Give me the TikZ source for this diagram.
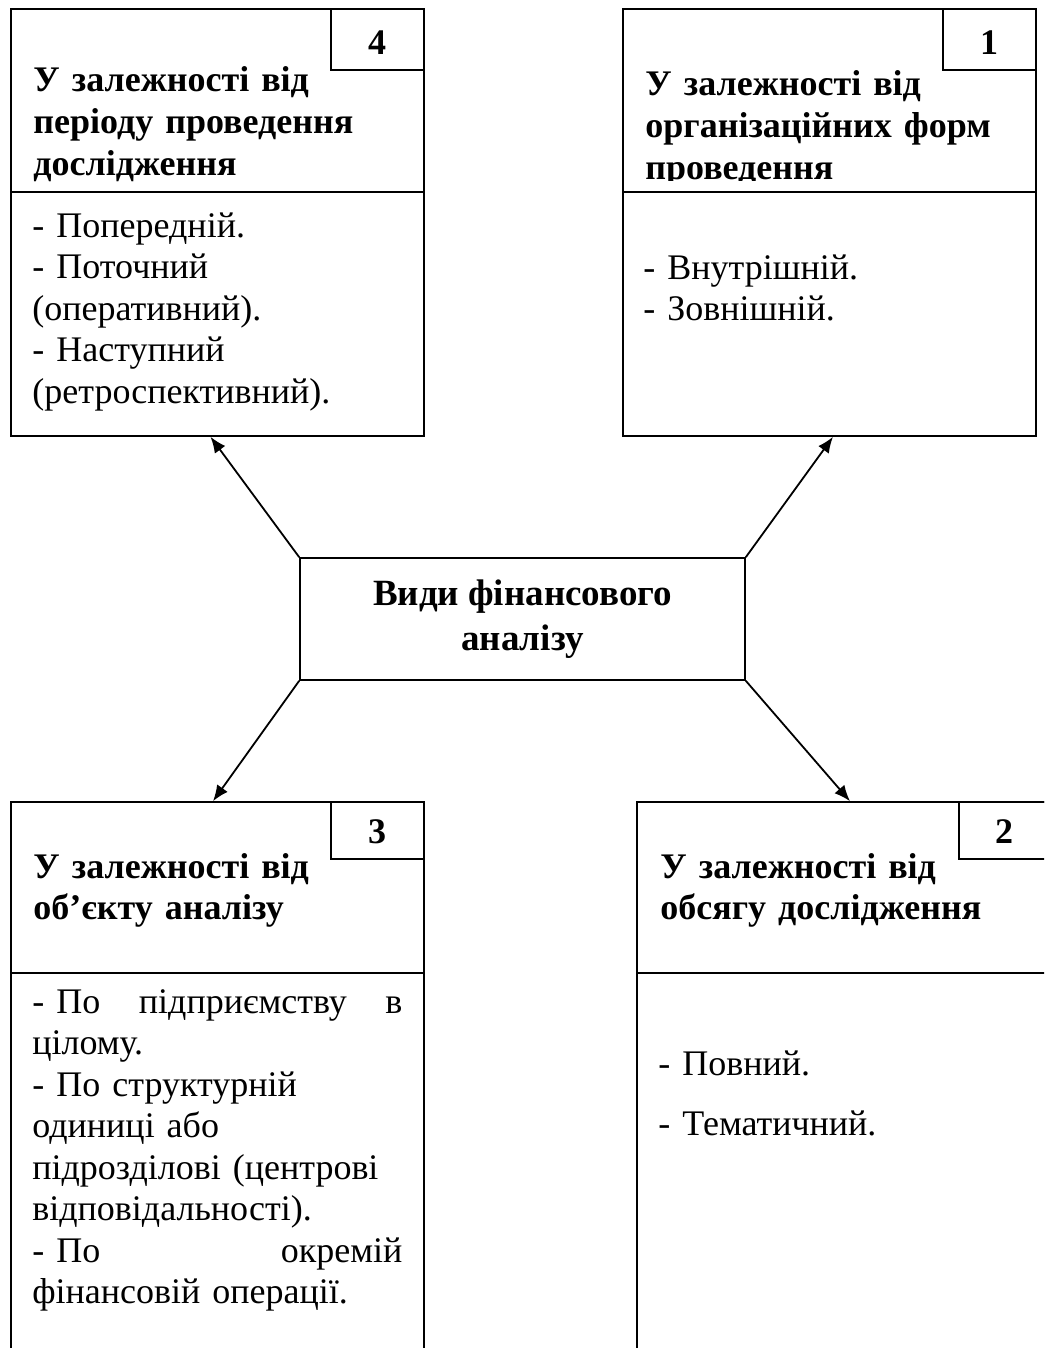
\documentclass[tikz,border=0pt]{standalone}
\usepackage{fontspec}
\setmainfont{Liberation Serif}
\usetikzlibrary{arrows.meta,fit}

\tikzset{
  frame/.style={draw, line width=0.8pt, inner sep=0pt},
  head/.style={anchor=base west, inner sep=0pt, text width=190pt, align=left,
    font=\fontsize{18}{20.9}\selectfont\bfseries},
  body/.style={anchor=base west, inner sep=0pt, text width=185pt, align=left,
    font=\fontsize{18}{20.75}\selectfont},
  numb/.style={anchor=base, inner sep=0pt, font=\fontsize{18}{20}\selectfont\bfseries},
  link/.style={-{Latex[length=8pt,width=6.5pt]}, line width=0.9pt}
}

\begin{document}
\begin{tikzpicture}[x=0.5pt,y=-0.5pt]
\clip (0,0) rectangle (1044,1348);

% boxes
\node[frame, fit={(11,9) (424,436)}] (box4) {};
\node[frame, fit={(623,9) (1036,436)}] (box1) {};
\node[frame, fit={(11,802) (424,1360)}] (box3) {};
\node[frame, fit={(637,802) (1050,1360)}] (box2) {};
\draw[line width=0.8pt] (box4.west |- 0,192) -- (box4.east |- 0,192);
\draw[line width=0.8pt] (box1.west |- 0,192) -- (box1.east |- 0,192);
\draw[line width=0.8pt] (box3.west |- 0,973) -- (box3.east |- 0,973);
\draw[line width=0.8pt] (box2.west |- 0,973) -- (box2.east |- 0,973);

% numbers
\node[frame, fit={(331,9) (424,70)}] (n4) {};
\node[frame, fit={(943,9) (1036,70)}] (n1) {};
\node[frame, fit={(331,802) (424,859)}] (n3) {};
\node[frame, fit={(959,802) (1050,859)}] (n2) {};
\node[numb] (t4) at (377,55) {4};
\node[numb] (t1) at (989,55) {1};
\node[numb] (t3) at (377,843) {3};
\node[numb] (t2) at (1004,843) {2};

% headings
\node[head] (h4) at (33,92) {У залежності від\\періоду проведення\\дослідження};
\begin{scope}
\clip (623,9) rectangle (1036,181);
\node[head] (h1) at (645,96) {У залежності від\\організаційних форм\\проведення};
\end{scope}
\node[head] (h3) at (33,878) {У залежності від\\об’єкту аналізу};
\node[head] (h2) at (660,878) {У залежності від\\обсягу дослідження};

% lists
\node[body] (l4) at (32,237) {- Попередній.\\- Поточний\\(оперативний).\\- Наступний\\(ретроспективний).};
\node[body] (l1) at (643,279) {- Внутрішній.\\- Зовнішній.};
\node[body] (l3) at (32,1013) {- По\hfill підприємству\hfill в\\цілому.\\- По структурній\\одиниці або\\підрозділові (центрові\\відповідальності).\\- По\hfill окремій\\фінансовій операції.};
\node[body] (l2) at (658,1075) {- Повний.\\[9.25pt]- Тематичний.};

% centre
\node[frame, minimum width=222.5pt, minimum height=61pt, align=center,
  font=\fontsize{18.5}{22.5}\selectfont\bfseries] (ctr) at (522.5,619)
  {Види фінансового\\аналізу};

\draw[link] (ctr.north west) -- ([xshift=-3.5pt]box4.south);
\draw[link] (ctr.north east) -- ([xshift=1.75pt]box1.south);
\draw[link] (ctr.south west) -- ([xshift=-2.25pt]box3.north);
\draw[link] (ctr.south east) -- ([xshift=3.25pt]box2.north);
\end{tikzpicture}
\end{document}
